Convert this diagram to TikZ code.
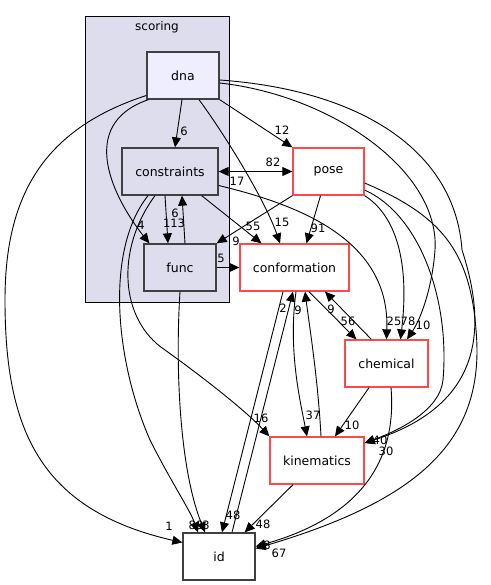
\documentclass[tikz,border=0pt]{standalone}
\usepackage{fontspec}
\setmainfont{DejaVu Sans}
\usetikzlibrary{arrows.meta,calc}
\definecolor{clfill}{HTML}{DDDDEE}
\definecolor{dnafill}{HTML}{EEEEFF}
\definecolor{dkborder}{HTML}{404040}
\definecolor{redb}{HTML}{FF4848}
\tikzset{
  box/.style={draw=dkborder, line width=1.3pt, minimum height=47pt, inner sep=0pt, font=\fontsize{12.5}{14}\selectfont},
  redbox/.style={draw=redb, fill=white, line width=1.3pt, minimum height=47pt, inner sep=0pt, font=\fontsize{12.5}{14}\selectfont},
  edge/.style={draw=black, line width=0.9pt, -{Triangle[length=10pt,width=9pt]}},
  lbl/.style={inner sep=0pt, font=\fontsize{11.5}{13}\selectfont}
}
\begin{document}
\begin{tikzpicture}[x=1pt,y=-1pt]
\useasboundingbox[fill=white] (0,0) rectangle (490,585);
% cluster
\node[draw=black, fill=clfill, line width=0.8pt, minimum width=144pt, minimum height=286pt, inner sep=0pt] (scoring) at (157,159) {};
\node[font=\fontsize{12}{14}\selectfont] (scoringtitle) at (157,27) {scoring};
% nodes
\node[box, fill=dnafill, minimum width=72pt] (dna) at (183,75.5) {dna};
\node[box, fill=clfill, minimum width=96pt] (constraints) at (170,171.5) {constraints};
\node[box, fill=clfill, minimum width=72pt] (func) at (180,267.5) {func};
\node[redbox, minimum width=71pt] (pose) at (328.5,171.5) {pose};
\node[redbox, minimum width=109pt] (conformation) at (294.5,267.5) {conformation};
\node[redbox, minimum width=83pt] (chemical) at (386.5,363.5) {chemical};
\node[redbox, minimum width=94pt] (kinematics) at (317,460.5) {kinematics};
\node[box, fill=white, minimum width=72pt] (id) at (219,556.5) {id};
% edges from dna
\draw[edge] ($(dna.south)+(-1,0)$) -- ($(constraints.north)+(5,0)$);
\node[lbl] (l1) at (184,131) {6};
\draw[edge] ($(dna.south west)+(2,0)$) .. controls (75,125) and (115,200) .. ($(func.north west)+(6,0)$);
\node[lbl] (l2) at (141,225) {4};
\draw[edge] (dna.south east) -- (pose.north west);
\node[lbl] (l3) at (282,130) {12};
\draw[edge] ($(dna.south)+(16,0)$) .. controls (225,135) and (265,200) .. ($(conformation.north)+(-14.5,0)$);
\node[lbl] (l4) at (282,222) {15};
\draw[edge] ($(dna.west)+(0,20)$) .. controls (40,130) and (5,200) .. (5,300) .. controls (5,430) and (40,510) .. ($(id.west)+(0,-14)$);
\node[lbl] (l5) at (169,526) {1};
\draw[edge] ($(dna.east)+(0,7.5)$) .. controls (330,95) and (440,170) .. (435,250) .. controls (432,290) and (420,320) .. ($(chemical.north)+(20.5,0)$);
\node[lbl] (l6) at (423,325) {10};
\draw[edge] ($(dna.east)+(0,4.5)$) .. controls (360,90) and (455,150) .. (462,250) .. controls (488,330) and (482,405) .. ($(kinematics.east)+(0,-17.5)$);
\node[lbl] (l7) at (386,451) {30};
% constraints
\draw[edge] (constraints.east) -- (pose.west);
\node[lbl] (l8) at (273,162) {82};
\draw[edge] (pose.west) -- (constraints.east);
\node[lbl] (l9) at (237,181) {17};
\draw[edge] ($(constraints.south)+(-5,0)$) -- ($(func.north)+(-12,0)$);
\node[lbl] (l10) at (174,223) {113};
\draw[edge] ($(func.north)+(5,0)$) -- ($(constraints.south)+(12,0)$);
\node[lbl] (l11) at (175,213) {6};
\draw[edge] ($(constraints.south east)+(-17,0)$) -- ($(conformation.north)+(-33,0)$);
\node[lbl] (l12) at (253,226) {55};
\draw[edge] ($(constraints.east)+(0,14)$) .. controls (300,205) and (390,240) .. (chemical.north);
\node[lbl] (l13) at (394,321) {25};
\draw[edge] ($(constraints.south)+(-22,0)$) .. controls (105,250) and (115,360) .. (150,440) .. controls (170,480) and (190,510) .. ($(id.north)+(-21,0)$);
\node[lbl] (l14) at (196,525) {89};
\draw[edge] ($(constraints.south)+(-15,0)$) .. controls (115,250) and (120,320) .. (165,350) .. controls (200,375) and (245,410) .. (kinematics.north west);
\node[lbl] (l15) at (261,418) {16};
% func
\draw[edge] (func.east) -- (conformation.west);
\node[lbl] (l16) at (221,258) {5};
\draw[edge] (func.south) .. controls (175,370) and (180,470) .. ($(id.north)+(-14,0)$);
\node[lbl] (l17) at (206,525) {3};
% pose
\draw[edge] (pose.south west) -- (func.north east);
\node[lbl] (l18) at (236,241) {9};
\draw[edge] ($(pose.south)+(-8,0)$) -- ($(conformation.north)+(12,0)$);
\node[lbl] (l19) at (318,228) {91};
\draw[edge] (pose.south east) .. controls (395,215) and (410,260) .. ($(chemical.north)+(14,0)$);
\node[lbl] (l20) at (408,321) {78};
\draw[edge] ($(pose.east)+(0,18.5)$) .. controls (420,215) and (450,300) .. (443,380) .. controls (440,410) and (400,430) .. ($(kinematics.east)+(0,-17.5)$);
\node[lbl] (l21) at (380,440) {40};
\draw[edge] ($(pose.east)+(0,11.5)$) .. controls (440,215) and (470,250) .. (476,330) .. controls (486,440) and (420,500) .. ($(id.east)+(0,-8)$);
\node[lbl] (l22) at (279,553) {67};
% conformation & chemical
\draw[edge] ($(conformation.south)+(14.5,0)$) -- ($(chemical.north west)+(12,0)$);
\node[lbl] (l23) at (348,321) {56};
\draw[edge] ($(chemical.north west)+(27,0)$) -- ($(conformation.south)+(30.5,0)$);
\node[lbl] (l24) at (331,309) {9};
\draw[edge] ($(conformation.south)+(1.5,0)$) .. controls (288,350) and (300,400) .. ($(kinematics.north)+(-10,0)$);
\node[lbl] (l25) at (313,415) {37};
\draw[edge] ($(kinematics.north)+(4,0)$) .. controls (318,380) and (310,330) .. ($(conformation.south)+(10.5,0)$);
\node[lbl] (l26) at (298,310) {9};
\draw[edge] ($(conformation.south)+(-11.5,0)$) -- ($(id.north)+(3,0)$);
\node[lbl] (l27) at (233,515) {48};
\draw[edge] ($(id.north)+(13,0)$) -- ($(conformation.south)+(-1.5,0)$);
\node[lbl] (l28) at (283,308) {2};
\draw[edge] ($(chemical.south)+(-17.5,0)$) -- ($(kinematics.north)+(18,0)$);
\node[lbl] (l29) at (352,425) {10};
\draw[edge] ($(chemical.south)+(4.5,0)$) .. controls (398,470) and (350,520) .. ($(id.east)+(0,-10)$);
\node[lbl] (l30) at (267,545) {8};
\draw[edge] ($(kinematics.south)+(-24,0)$) -- ($(id.north east)+(-11,0)$);
\node[lbl] (l31) at (263,524) {48};
\end{tikzpicture}
\end{document}
